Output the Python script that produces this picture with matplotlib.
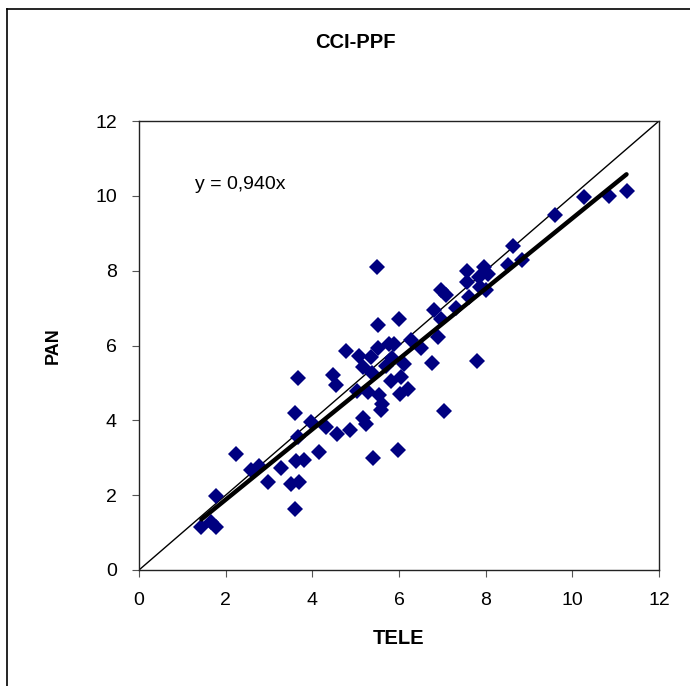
import matplotlib
matplotlib.use("Agg")
import matplotlib.pyplot as plt
from matplotlib.lines import Line2D
import numpy as np

plt.rcParams['font.family'] = ['Liberation Sans', 'DejaVu Sans']

title = "CCI-PPF"
x_label = "TELE"
y_label = "PAN"
slope = 0.940
equation = "y = 0,940x"
ticks = [0, 2, 4, 6, 8, 10, 12]

tele = [1.44, 1.67, 1.78, 1.78, 2.24, 2.59, 2.78, 2.97, 3.28, 3.59,
        3.51, 3.70, 3.62, 3.80, 3.59, 3.66, 3.68, 3.97, 4.15, 4.31,
        4.58, 4.87, 4.47, 4.55, 4.78, 5.08, 5.16, 5.35, 5.04, 5.29,
        5.16, 5.24, 5.41, 5.50, 5.52, 5.52, 5.54, 5.60, 5.58, 5.77,
        5.89, 5.85, 5.81, 5.99, 6.04, 6.12, 6.02, 6.20, 5.98, 6.27,
        6.50, 6.77, 6.89, 6.81, 6.96, 6.96, 7.08, 7.05, 7.31, 7.58,
        7.61, 7.58, 7.81, 7.85, 7.96, 7.88, 8.00, 8.06, 8.51, 8.63,
        8.84, 9.61, 10.27, 10.84, 11.25, 5.70, 5.37]
pan = [1.14, 1.27, 1.16, 1.99, 3.10, 2.66, 2.79, 2.34, 2.73, 1.63,
       2.30, 2.36, 2.90, 2.94, 4.19, 3.55, 5.12, 3.95, 3.16, 3.83,
       3.64, 3.74, 5.20, 4.95, 5.85, 5.73, 5.42, 5.69, 4.79, 4.75,
       4.05, 3.91, 2.99, 8.11, 6.56, 5.92, 4.68, 4.44, 4.27, 6.03,
       6.04, 5.66, 5.06, 6.70, 5.16, 5.51, 4.71, 4.84, 3.22, 6.14,
       5.94, 5.53, 6.22, 6.94, 6.70, 7.48, 7.34, 4.24, 7.00, 8.00,
       7.29, 7.69, 5.58, 7.82, 8.10, 7.56, 7.47, 7.90, 8.15, 8.66,
       8.29, 9.49, 9.96, 10.00, 10.14, 5.45, 5.26]

fig = plt.figure(figsize=(6.9, 6.86), dpi=100)
ax = fig.add_axes([139/690, 1-570/686, 520/690, 449/686])

# 1:1 line
ax.plot([ticks[0], ticks[-1]], [ticks[0], ticks[-1]], color='black', lw=1.0, zorder=2)
# regression line
fx = np.array([min(tele), max(tele)])
ax.plot(fx, slope*fx, color='black', lw=3.2, solid_capstyle='round', zorder=4)
# points
ax.plot(tele, pan, linestyle='none', marker='D', markersize=8.2,
        color='#000080', markeredgewidth=0, zorder=3)

ax.set_xlim(ticks[0], ticks[-1])
ax.set_ylim(ticks[0], ticks[-1])
ax.set_xticks(ticks)
ax.set_yticks(ticks)
ax.tick_params(direction='out', length=5, width=0.8, labelsize=14, color='#555555')
ax.tick_params(axis='x', pad=11)
ax.tick_params(axis='y', pad=11)
for s in ax.spines.values():
    s.set_linewidth(1.0)
    s.set_color('#222222')

ax.set_xlabel(x_label, fontsize=14.5, fontweight='bold', labelpad=14)
ax.set_ylabel(y_label, fontsize=13, fontweight='bold', labelpad=24)
ax.text(1.3, 10.3, equation, fontsize=14, va='center', ha='left')

fig.text(0.515, 1-42/686, title, fontsize=14.5, fontweight='bold', ha='center', va='center')

# outer chart frame (left and top visible)
fig.add_artist(Line2D([7/690, 7/690], [0, 1-9/686], color='black', lw=1.2))
fig.add_artist(Line2D([7/690, 1], [1-9/686, 1-9/686], color='black', lw=1.2))

fig.savefig("out.png", dpi=100)
